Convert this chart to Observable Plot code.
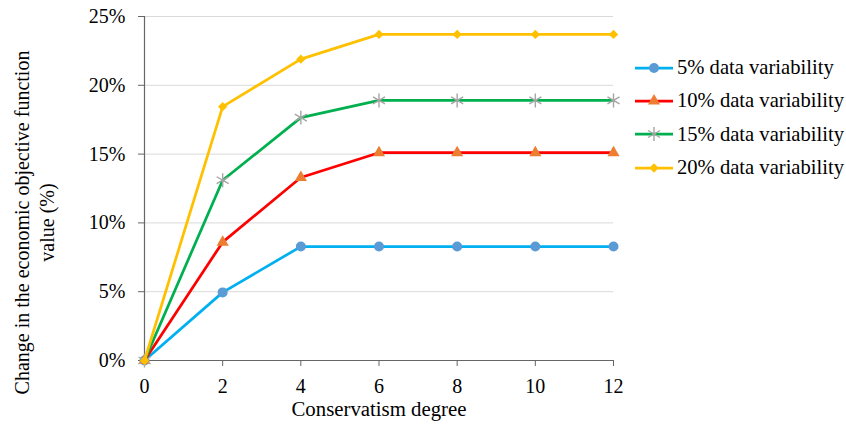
<!DOCTYPE html>
<html><head><meta charset="utf-8">
<script src="https://cdn.jsdelivr.net/npm/d3@7"></script>
<script src="https://cdn.jsdelivr.net/npm/@observablehq/plot@0.6"></script>
<style>
body{margin:0;background:#fff;font-family:"Liberation Serif","Times New Roman",serif;}
#wrap{position:relative;width:846px;height:425px;}
#legend{position:absolute;left:633px;top:51px;}
.row{display:flex;align-items:center;height:33.3px;font-size:20.6px;color:#000;white-space:nowrap;}
.row svg{margin-right:2px;}
</style></head><body>
<div id="wrap"><div id="chart"></div><div id="legend"></div></div>
<script>
const degrees = [0, 2, 4, 6, 8, 10, 12];
const seriesNames = ["5% data variability", "10% data variability", "15% data variability", "20% data variability"];
const values5 = [0, 4.95, 8.28, 8.28, 8.28, 8.28, 8.28];
const values10 = [0, 8.6, 13.3, 15.1, 15.1, 15.1, 15.1];
const values15 = [0, 13.1, 17.65, 18.9, 18.9, 18.9, 18.9];
const values20 = [0, 18.45, 21.9, 23.7, 23.7, 23.7, 23.7];
const yTicks = [0, 5, 10, 15, 20, 25];
const xLabel = "Conservatism degree";
const yLabel = "Change in the economic objective function\nvalue (%)";

const lineColors = ["#00b0f0", "#ff0000", "#00b050", "#ffc000"];
const markerColors = ["#5b9bd5", "#ed7d31", "#a5a5a5", "#ffc000"];
const symbols = ["circle", "triangle", "asterisk", "diamond2"];
const markerR = [5, 4.5, 6.6, 4.2];

const allValues = [values5, values10, values15, values20];
const rows = seriesNames.flatMap((s, i) => degrees.map((d, j) => ({series: s, i, x: d, y: allValues[i][j]})));

const seriesMarks = seriesNames.flatMap((s, i) => {
  const data = rows.filter(r => r.i === i);
  const isStroke = symbols[i] === "asterisk";
  return [
    Plot.line(data, {x: "x", y: "y", stroke: lineColors[i], strokeWidth: 2.75}),
    Plot.dot(data, {x: "x", y: "y", symbol: symbols[i], r: markerR[i],
      fill: isStroke ? "none" : markerColors[i],
      stroke: isStroke ? markerColors[i] : "none",
      strokeWidth: isStroke ? 1.4 : 0})
  ];
});

const chart = Plot.plot({
  width: 846, height: 425,
  marginLeft: 144, marginRight: 233, marginTop: 16, marginBottom: 65,
  style: {fontFamily: "'Liberation Serif','Times New Roman',serif", fontSize: "20px", color: "#000", background: "#fff", overflow: "visible"},
  x: {domain: [0, 12]},
  y: {domain: [0, 25]},
  marks: [
    Plot.gridY(yTicks.slice(1), {stroke: "#d9d9d9", strokeOpacity: 1, strokeWidth: 1}),
    Plot.axisY(yTicks, {tickSize: 6, tickPadding: 13, tickFormat: d => d + "%", stroke: "#666", fill: "#000", fontSize: 20, label: null}),
    Plot.axisX(degrees, {tickSize: 6, tickPadding: 12, stroke: "#666", fill: "#000", fontSize: 20, label: null}),
    Plot.ruleX([0], {stroke: "#666", strokeWidth: 1.2}),
    Plot.ruleY([0], {stroke: "#666", strokeWidth: 1.2}),
    Plot.text([xLabel], {frameAnchor: "bottom", dy: 48.5, text: d => d, fontSize: 20.8, fill: "#000", lineAnchor: "middle"}),
    Plot.text([yLabel], {frameAnchor: "left", dx: -111.5, dy: 34, rotate: -90, text: d => d, fontSize: 20, fill: "#000", textAnchor: "middle", lineAnchor: "middle", lineHeight: 1.25}),
    ...seriesMarks
  ]
});
document.getElementById("chart").appendChild(chart);

// legend
const legend = d3.select("#legend");
const typeMap = {circle: d3.symbolCircle, triangle: d3.symbolTriangle, asterisk: d3.symbolAsterisk, diamond2: d3.symbolDiamond2 || d3.symbolSquare};
seriesNames.forEach((s, i) => {
  const row = legend.append("div").attr("class", "row");
  const svg = row.append("svg").attr("width", 42).attr("height", 20);
  svg.append("line").attr("x1", 2).attr("x2", 40).attr("y1", 10).attr("y2", 10)
    .attr("stroke", lineColors[i]).attr("stroke-width", 2.75);
  const isStroke = symbols[i] === "asterisk";
  svg.append("path").attr("transform", "translate(21,10)")
    .attr("d", d3.symbol().type(typeMap[symbols[i]]).size(Math.PI * markerR[i] * markerR[i])())
    .attr("fill", isStroke ? "none" : markerColors[i])
    .attr("stroke", isStroke ? markerColors[i] : "none")
    .attr("stroke-width", isStroke ? 1.4 : 0);
  row.append("span").text(s);
});
</script>
</body></html>
